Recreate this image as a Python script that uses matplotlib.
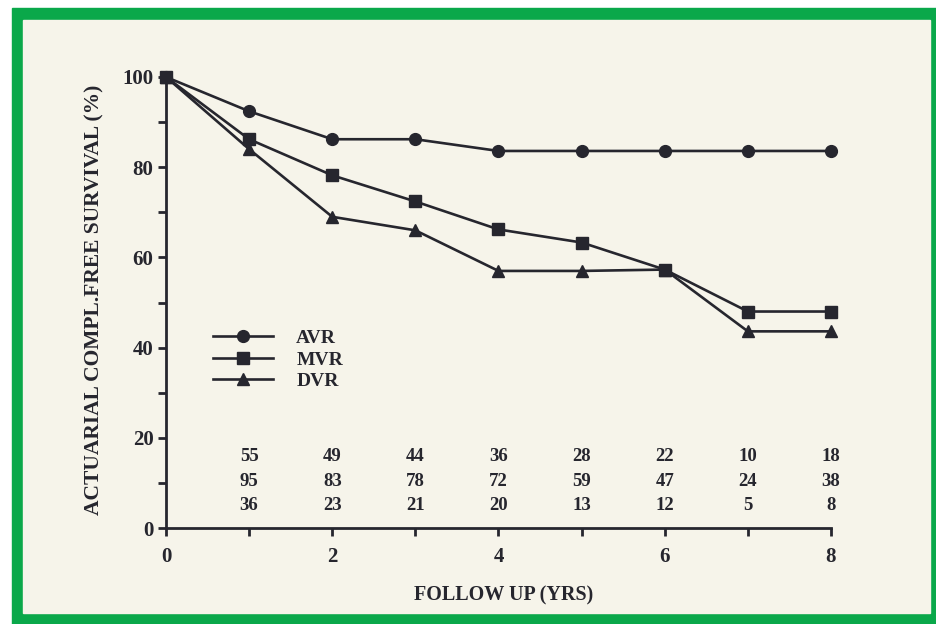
import matplotlib.pyplot as plt
from matplotlib.patches import Rectangle

# survival curves (years 0..8)
years = [0, 1, 2, 3, 4, 5, 6, 7, 8]
avr = [100, 92.4, 86.2, 86.2, 83.6, 83.6, 83.6, 83.6, 83.6]
mvr = [100, 86.2, 78.2, 72.4, 66.2, 63.3, 57.3, 48.0, 48.0]
dvr = [100, 84.0, 69.0, 66.0, 57.0, 57.0, 57.3, 43.6, 43.6]

# patients at risk
risk_years = [1, 2, 3, 4, 5, 6, 7, 8]
risk_avr = [55, 49, 44, 36, 28, 22, 10, 18]
risk_mvr = [95, 83, 78, 72, 59, 47, 24, 38]
risk_dvr = [36, 23, 21, 20, 13, 12, 5, 8]

ink = '#26262e'
paper = '#f6f4ea'
green = '#0aa84a'
font = 'Liberation Serif'

fig = plt.figure(figsize=(9.37, 6.24), dpi=100)
fig.patch.set_facecolor('white')

# green frame + paper background
W, H = 937, 624
fig.patches.append(Rectangle((12 / W, 0), 1 - 12 / W, 1 - 8 / H,
                             transform=fig.transFigure, color=green, zorder=-2))
fig.patches.append(Rectangle((23 / W, (H - 613) / H), (930 - 23) / W, (613 - 20) / H,
                             transform=fig.transFigure, color=paper, zorder=-1))

ax = fig.add_axes([166 / W, 1 - 528 / H, (831 - 166) / W, (528 - 77) / H])
ax.set_facecolor('none')
ax.set_zorder(2)

kw = dict(color=ink, linewidth=1.9, markersize=8.5, clip_on=False, zorder=3)
ax.plot(years, avr, marker='o', label='AVR', **kw)
ax.plot(years, mvr, marker='s', label='MVR', **kw)
ax.plot(years, dvr, marker='^', label='DVR', **kw)

ax.set_xlim(0, 8)
ax.set_ylim(0, 100)
ax.set_xticks(range(0, 9))
ax.set_xticklabels(['0', '', '2', '', '4', '', '6', '', '8'])
ax.set_yticks(range(0, 101, 10))
ax.set_yticklabels([str(v) if v % 20 == 0 else '' for v in range(0, 101, 10)])
ax.tick_params(axis='both', direction='out', length=6, width=2, color=ink,
               labelcolor=ink, labelsize=15)
ax.tick_params(axis='x', pad=8)
ax.tick_params(axis='y', pad=3)
for lbl in ax.get_xticklabels() + ax.get_yticklabels():
    lbl.set_fontfamily(font)
    lbl.set_fontweight('bold')

for side in ['top', 'right']:
    ax.spines[side].set_visible(False)
for side in ['left', 'bottom']:
    ax.spines[side].set_linewidth(2)
    ax.spines[side].set_color(ink)

# at-risk numbers
for row, y in zip([risk_avr, risk_mvr, risk_dvr], [15.8, 10.4, 5.0]):
    for x, n in zip(risk_years, row):
        ax.text(x, y, str(n), ha='center', va='center', fontsize=13.5,
                family=font, fontweight='bold', color=ink)

ax.set_ylabel('ACTUARIAL COMPL.FREE SURVIVAL (%)', fontsize=15.5, family=font,
              fontweight='bold', color=ink)
ax.yaxis.set_label_coords(-0.093, 0.505)
ax.set_xlabel('FOLLOW UP (YRS)', fontsize=14.5, family=font,
              fontweight='bold', color=ink)
ax.xaxis.set_label_coords(0.508, -0.128)

leg = ax.legend(loc='upper left', bbox_to_anchor=(0.07, 0.44), frameon=False,
                numpoints=1, handlelength=3.1, handletextpad=1.2,
                labelspacing=0.2, borderpad=0, borderaxespad=0,
                prop={'family': font, 'weight': 'bold', 'size': 14})
for t in leg.get_texts():
    t.set_color(ink)

fig.savefig('out.png', dpi=100, facecolor=fig.get_facecolor())
